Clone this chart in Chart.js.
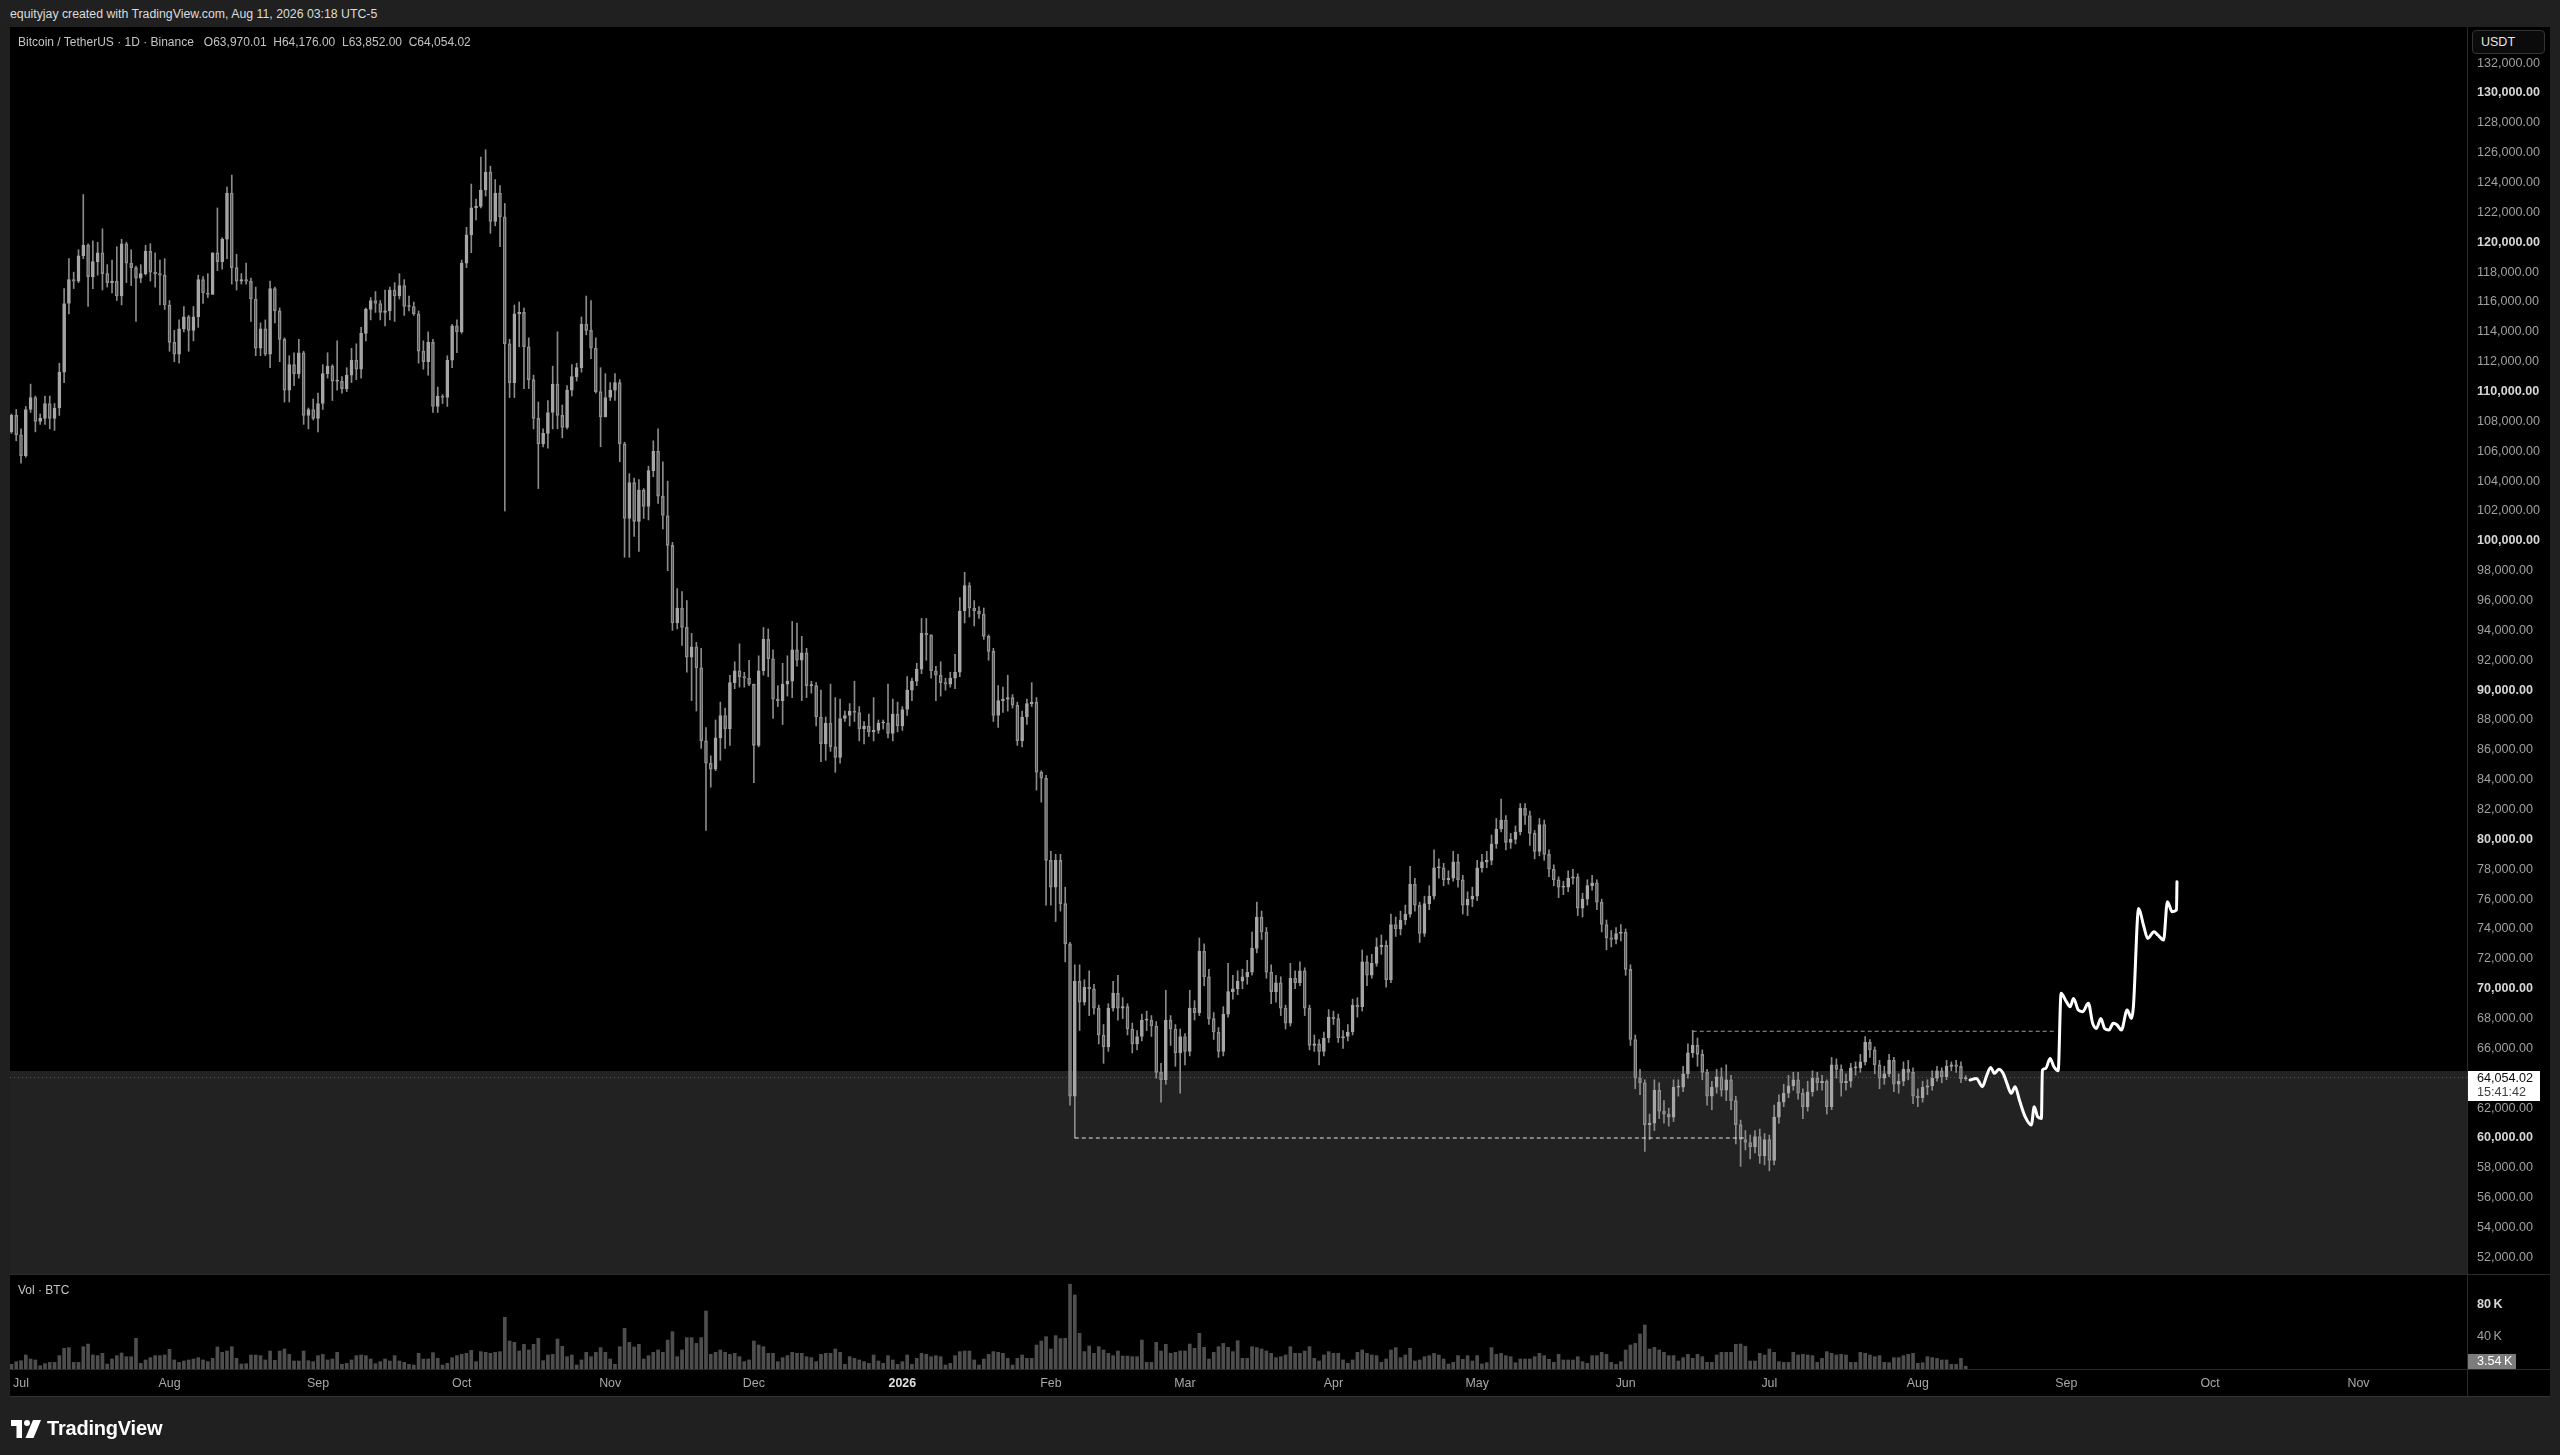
<!DOCTYPE html>
<html>
<head>
<meta charset="utf-8">
<title>BTCUSDT 1D</title>
<script src="https://cdn.jsdelivr.net/npm/chart.js@4.4.1/dist/chart.umd.min.js"></script>
<style>
  html, body { margin: 0; padding: 0; width: 2560px; height: 1455px; overflow: hidden; background: #202020;
    font-family: "Liberation Sans", Arial, sans-serif; }
  .abs { position: absolute; }
  #topline { left: 10px; top: 6px; font-size: 12.3px; line-height: 16px; color: #dcdcdc; white-space: pre; }
  #frame { left: 10px; top: 27px; width: 2540px; height: 1370px; background: #000; }
  #mainCanvas { left: 10px; top: 27px; }
  #volCanvas { left: 10px; top: 1275px; }
  #legend { left: 18px; top: 35px; font-size: 12px; line-height: 14px; color: #c4c4c4; white-space: pre; z-index: 5; }
  #volLegend { left: 18px; top: 1283px; font-size: 12px; line-height: 14px; color: #c4c4c4; z-index: 5; }
  #usdt { left: 2472px; top: 30px; width: 73px; height: 24px; border: 1px solid #333; border-radius: 4px;
    background: #0b0b0b; color: #e6e6e6; font-size: 12.5px; line-height: 22px; padding-left: 8px; box-sizing: border-box; z-index: 5; }
  .sep { background: #2b2b2b; z-index: 4; }
  #logo { left: 11px; top: 1417px; z-index: 5; display: flex; align-items: center; }
  #logo span { color: #fff; font-size: 20px; font-weight: bold; margin-left: 6px; letter-spacing: -0.2px; }
</style>
</head>
<body>
<div id="topline" class="abs">equityjay created with TradingView.com, Aug 11, 2026 03:18 UTC-5</div>
<div id="frame" class="abs"></div>
<canvas id="mainCanvas" class="abs" width="2540" height="1247"></canvas>
<canvas id="volCanvas" class="abs" width="2540" height="122"></canvas>
<div class="abs sep" style="left:10px;top:1274px;width:2540px;height:1px;"></div>
<div class="abs sep" style="left:10px;top:1369px;width:2540px;height:1px;"></div>
<div class="abs sep" style="left:10px;top:1396px;width:2540px;height:1px;background:#333;"></div>
<div class="abs sep" style="left:2467px;top:27px;width:1px;height:1370px;"></div>
<div id="legend" class="abs">Bitcoin / TetherUS · 1D · Binance   O63,970.01  H64,176.00  L63,852.00  C64,054.02</div>
<div id="volLegend" class="abs">Vol · BTC</div>
<div id="usdt" class="abs">USDT</div>
<div id="logo" class="abs">
  <svg width="30" height="18" viewBox="0 0 30 18">
    <path d="M0 0 H11 V18 H5.5 V6 H0 Z" fill="#fff"/>
    <circle cx="16" cy="3" r="3" fill="#fff"/>
    <path d="M22 0 H30 L22.5 18 H14.5 Z" fill="#fff"/>
  </svg>
  <span>TradingView</span>
</div>

<script>
// Day 0 = 2025-07-01, first candle = 2025-06-29
const firstDay = -2;
const firstOpenK = 107.3;

// daily closes in thousands USDT
const closeK = [
  108.4, 107.1,
  105.7, 108.8, 109.6, 108.0, 108.2, 109.2, 108.2, 108.9, 111.3, 115.9, 117.5, 117.4, 119.1, 119.8, 117.7, 118.7, 119.3, 117.9, 117.3, 117.4, 116.4, 119.9, 118.6, 118.3, 117.6, 117.9, 119.4, 118.0, 117.9, 117.8, 115.8,
  113.3, 112.5, 114.2, 115.0, 114.1, 115.0, 117.5, 116.6, 116.5, 119.3, 118.7, 120.2, 123.3, 118.3, 117.4, 117.5, 117.4, 116.2, 112.9, 114.2, 112.5, 116.9, 115.4, 113.5, 110.1, 111.8, 111.2, 112.6, 108.4, 108.8, 108.2,
  109.2, 111.2, 111.7, 110.7, 110.7, 110.2, 111.1, 112.1, 111.5, 113.9, 115.5, 116.1, 115.9, 115.3, 115.4, 116.8, 116.4, 117.1, 115.7, 115.7, 115.2, 112.7, 112.0, 113.3, 109.0, 109.7, 109.6, 112.1, 114.4, 114.0,
  118.6, 120.5, 122.3, 122.4, 123.5, 124.7, 121.4, 123.3, 121.7, 113.2, 110.6, 115.2, 115.3, 113.0, 110.8, 108.2, 106.5, 107.2, 108.6, 110.5, 108.4, 107.6, 110.1, 111.0, 111.6, 114.5, 114.1, 112.9, 110.0, 108.3, 109.6,
  110.1, 110.6, 106.5, 101.5, 103.9, 101.3, 103.4, 102.3, 104.7, 106.0, 103.0, 101.7, 99.7, 94.5, 95.5, 94.2, 92.2, 92.9, 91.5, 86.6, 85.1, 84.7, 86.8, 88.3, 87.4, 90.5, 91.3, 90.9, 90.8, 90.4,
  86.3, 91.3, 93.4, 92.1, 89.4, 89.3, 90.4, 90.6, 92.7, 92.0, 92.5, 90.3, 90.3, 88.2, 86.4, 87.8, 86.2, 85.5, 88.1, 88.3, 88.6, 88.5, 87.4, 87.6, 87.2, 87.3, 87.8, 87.8, 87.1, 88.4, 87.6,
  88.7, 90.0, 90.6, 91.4, 93.8, 93.7, 91.3, 91.0, 90.5, 90.4, 90.8, 91.2, 95.3, 97.0, 95.5, 95.3, 95.1, 93.6, 92.6, 88.3, 89.3, 89.4, 89.5, 89.0, 86.6, 88.2, 89.1, 89.2, 84.5, 84.1, 78.6,
  76.8, 78.6, 75.7, 73.0, 62.8, 70.5, 69.1, 70.1, 70.0, 68.7, 66.9, 66.1, 68.7, 69.7, 68.7, 68.8, 67.3, 66.3, 66.8, 67.9, 67.9, 67.5, 64.4, 63.9, 67.9, 67.3, 65.7, 66.8,
  65.8, 68.7, 68.4, 72.5, 70.8, 68.0, 67.1, 65.8, 68.3, 69.8, 70.0, 70.5, 70.8, 71.1, 72.7, 74.8, 73.8, 71.1, 69.8, 70.4, 68.7, 67.7, 70.7, 70.4, 71.2, 68.7, 66.2, 66.3, 65.8, 66.7, 68.1,
  68.0, 66.7, 66.8, 67.1, 68.9, 68.8, 71.8, 70.9, 71.7, 72.8, 72.9, 70.6, 74.3, 74.0, 74.6, 75.0, 77.0, 75.6, 73.7, 75.7, 76.2, 78.1, 78.1, 77.3, 77.4, 78.5, 77.3, 75.6, 76.0, 76.2,
  78.1, 78.5, 78.6, 79.7, 80.7, 81.3, 79.8, 80.0, 80.5, 82.1, 81.6, 80.4, 79.2, 81.0, 79.0, 78.0, 77.3, 76.8, 76.8, 77.4, 77.5, 75.4, 76.0, 76.9, 77.1, 75.8, 74.3, 73.4, 73.3, 73.7, 73.8,
  71.3, 66.6, 64.0, 63.7, 60.9, 61.0, 63.2, 61.8, 61.6, 61.4, 63.4, 63.4, 64.3, 65.7, 66.2, 65.6, 64.4, 62.8, 63.4, 64.1, 63.2, 63.9, 62.5, 60.9, 59.9, 59.7, 59.4, 60.1, 58.8, 59.9,
  58.5, 61.4, 62.4, 63.0, 63.5, 63.9, 63.0, 62.1, 63.1, 64.0, 63.7, 63.8, 62.1, 64.9, 64.6, 63.7, 63.8, 64.7, 64.7, 65.1, 66.4, 65.9, 64.9, 64.0, 64.3, 65.2, 63.6, 63.8, 64.6, 64.4, 62.8,
  62.7, 63.4, 63.5, 64.0, 64.5, 64.1, 64.8, 64.9, 64.8, 63.97, 64.05402
];

const highK = [
  108.5, 108.8,
  107.5, 109.0, 110.5, 109.7, 108.5, 109.7, 109.7, 109.2, 111.9, 116.9, 118.9, 118.0, 119.5, 123.2, 119.9, 120.1, 120.0, 120.9, 118.5, 118.8, 119.7, 120.2, 120.0, 119.5, 118.4, 118.5, 119.8, 119.9, 119.3, 118.8, 118.9,
  116.1, 114.1, 114.8, 115.7, 115.1, 115.7, 117.8, 117.7, 117.9, 119.3, 122.3, 120.3, 123.7, 124.5, 119.2, 117.9, 118.6, 117.6, 117.0, 114.6, 114.8, 117.4, 117.0, 115.6, 113.6, 112.4, 112.6, 113.5, 112.7, 108.9, 109.5,
  109.9, 111.8, 112.6, 111.8, 113.4, 111.0, 111.6, 112.9, 113.2, 114.3, 115.6, 116.3, 116.7, 116.1, 116.8, 117.0, 117.3, 117.9, 117.5, 116.4, 116.0, 115.4, 113.4, 114.0, 113.5, 110.3, 109.8, 112.4, 114.5, 114.8,
  118.8, 121.0, 123.9, 122.9, 125.7, 126.2, 125.1, 124.2, 123.8, 122.6, 113.5, 115.8, 116.0, 115.6, 113.6, 111.1, 109.3, 107.5, 109.4, 111.7, 114.0, 109.1, 110.4, 111.8, 111.9, 115.0, 116.4, 116.1, 113.6, 111.6, 111.2,
  110.6, 111.2, 110.8, 106.6, 104.5, 104.2, 104.1, 103.5, 105.0, 106.7, 107.5, 105.3, 104.0, 99.9, 96.8, 96.6, 96.0, 93.8, 93.2, 92.8, 87.5, 85.6, 88.0, 89.2, 88.8, 91.0, 91.9, 93.1, 91.2, 92.0,
  90.4, 92.3, 94.2, 94.1, 92.7, 90.3, 91.8, 92.3, 94.6, 94.5, 93.6, 92.8, 90.6, 90.5, 90.0, 88.2, 90.4, 89.5, 89.4, 88.6, 89.1, 90.6, 88.9, 87.9, 88.4, 89.5, 88.0, 88.0, 90.4, 89.4, 89.2,
  88.9, 90.9, 90.8, 91.8, 94.8, 94.8, 93.6, 91.6, 91.9, 90.8, 91.2, 92.4, 96.2, 97.9, 97.2, 96.0, 95.6, 95.5, 93.7, 92.8, 90.3, 90.2, 91.0, 89.7, 89.2, 88.6, 89.4, 90.5, 89.5, 84.6, 84.3,
  79.2, 79.0, 79.0, 76.8, 73.1, 71.6, 71.6, 70.6, 71.2, 70.3, 68.9, 67.6, 69.0, 70.5, 70.9, 69.4, 69.0, 67.7, 67.2, 68.3, 68.5, 68.2, 67.8, 65.0, 69.9, 68.2, 67.6, 67.3,
  67.0, 69.9, 69.2, 73.4, 73.0, 71.3, 68.4, 67.4, 68.8, 71.7, 70.9, 71.2, 71.3, 71.9, 73.8, 75.8, 75.2, 74.1, 71.6, 70.9, 70.8, 68.9, 71.7, 71.2, 71.8, 71.4, 68.9, 66.9, 66.6, 67.1, 68.6,
  68.5, 68.3, 67.2, 67.6, 69.3, 69.4, 72.6, 72.2, 72.3, 73.4, 73.6, 73.2, 75.0, 74.8, 75.2, 75.6, 78.2, 77.4, 75.8, 76.2, 76.9, 79.3, 78.7, 78.4, 77.9, 79.2, 79.0, 77.6, 76.5, 76.8,
  78.6, 79.0, 79.2, 80.3, 81.4, 82.7, 81.6, 80.4, 80.9, 82.4, 82.4, 81.9, 80.6, 81.4, 81.3, 79.3, 78.3, 77.5, 77.2, 77.9, 78.0, 77.7, 76.4, 77.3, 77.6, 77.3, 76.0, 74.6, 73.9, 74.1, 74.3,
  74.0, 71.6, 66.9, 64.6, 63.9, 61.6, 63.9, 63.7, 62.5, 62.0, 63.9, 63.9, 64.8, 66.3, 67.2, 66.7, 65.9, 64.6, 63.8, 64.6, 64.7, 64.9, 64.2, 62.8, 61.2, 60.5, 60.2, 60.5, 60.6, 60.3,
  60.2, 62.2, 62.9, 63.6, 64.2, 64.4, 64.4, 63.3, 63.8, 64.5, 64.4, 64.2, 63.9, 65.4, 65.3, 64.9, 64.3, 65.0, 65.1, 65.6, 66.8, 66.6, 66.1, 65.2, 64.8, 65.6, 65.4, 64.3, 65.1, 65.2, 64.7,
  63.3, 63.8, 63.9, 64.5, 64.8, 64.7, 65.2, 65.1, 65.2, 65.1, 64.176
];

const lowK = [
  107.2, 106.7,
  105.2, 105.6, 108.6, 107.3, 107.8, 107.8, 107.5, 107.4, 108.4, 110.6, 115.2, 116.9, 117.3, 118.9, 115.7, 116.9, 117.8, 116.8, 117.0, 116.6, 116.1, 115.8, 117.3, 117.1, 114.7, 117.3, 117.8, 117.4, 117.0, 115.8, 115.5,
  112.7, 112.0, 111.9, 114.0, 112.7, 113.4, 114.3, 115.9, 116.3, 116.5, 118.1, 118.2, 118.9, 117.2, 116.8, 117.2, 117.2, 114.7, 112.4, 112.4, 112.4, 111.6, 114.6, 112.0, 109.3, 109.3, 110.4, 110.9, 107.8, 107.5, 108.1,
  107.3, 108.8, 110.9, 109.4, 110.1, 109.9, 110.0, 110.6, 110.8, 110.9, 113.4, 114.8, 115.3, 114.8, 114.4, 114.8, 114.7, 116.2, 115.1, 115.4, 115.1, 111.9, 111.5, 111.1, 108.6, 108.6, 109.2, 109.0, 111.6, 112.6,
  113.9, 118.3, 119.3, 121.5, 122.3, 123.1, 120.6, 121.1, 119.7, 102.0, 109.6, 109.6, 113.0, 110.2, 110.2, 107.5, 103.5, 106.3, 106.2, 107.5, 107.5, 106.9, 107.5, 109.7, 110.7, 111.3, 113.8, 112.2, 109.9, 106.3, 108.6,
  109.4, 109.4, 105.3, 98.9, 98.9, 100.3, 99.3, 101.5, 101.4, 104.3, 102.5, 100.8, 98.0, 94.0, 94.1, 93.0, 91.2, 89.3, 88.6, 86.1, 80.6, 83.5, 84.6, 85.3, 86.1, 86.3, 90.1, 90.2, 90.2, 90.3,
  83.8, 86.2, 91.0, 90.9, 88.1, 88.9, 87.7, 89.6, 89.5, 91.6, 89.3, 89.5, 89.8, 87.6, 85.2, 85.3, 85.9, 84.5, 85.1, 87.9, 87.6, 87.9, 86.6, 86.4, 86.9, 86.6, 87.1, 87.4, 86.8, 86.6, 87.2,
  87.3, 88.3, 89.3, 90.3, 91.1, 92.0, 90.8, 89.3, 89.6, 90.0, 90.2, 90.1, 90.9, 94.5, 94.9, 94.3, 94.8, 93.4, 92.0, 87.9, 87.5, 88.5, 88.6, 88.8, 86.3, 86.2, 87.7, 88.9, 83.3, 82.5, 75.6,
  75.6, 74.5, 75.2, 71.8, 62.2, 60.0, 67.2, 68.9, 68.2, 68.3, 66.3, 65.0, 65.8, 68.5, 67.9, 68.0, 66.9, 65.7, 65.9, 66.5, 67.2, 66.8, 64.0, 62.4, 63.6, 66.2, 64.8, 63.0,
  64.9, 65.5, 67.9, 68.2, 70.2, 67.6, 66.6, 65.4, 65.5, 68.1, 69.3, 69.6, 70.0, 70.3, 70.9, 72.4, 73.3, 70.7, 69.0, 69.1, 68.2, 67.3, 67.5, 70.0, 70.2, 68.2, 65.9, 65.8, 64.9, 65.5, 66.4,
  67.6, 66.4, 66.0, 66.5, 66.9, 68.1, 68.5, 70.2, 70.7, 71.5, 72.3, 70.1, 70.4, 73.5, 73.6, 74.3, 74.8, 75.2, 73.1, 73.5, 75.3, 76.0, 77.4, 76.9, 77.0, 77.2, 76.8, 75.0, 74.9, 75.5,
  75.9, 77.8, 78.1, 78.3, 79.4, 80.5, 79.3, 79.4, 79.7, 80.3, 81.0, 79.6, 78.7, 78.9, 78.6, 77.5, 76.9, 76.1, 76.3, 76.5, 77.0, 74.9, 74.8, 75.6, 76.6, 75.3, 73.8, 72.6, 72.8, 73.0, 73.2,
  70.9, 66.2, 63.3, 62.9, 59.1, 59.9, 60.5, 61.3, 61.0, 60.8, 61.1, 62.8, 63.1, 64.0, 65.4, 64.8, 63.9, 62.2, 61.9, 63.0, 62.8, 62.5, 61.9, 59.6, 58.1, 59.2, 58.6, 59.0, 58.3, 58.2,
  57.8, 58.2, 61.0, 62.1, 62.7, 63.2, 62.6, 61.3, 61.8, 62.8, 63.2, 63.2, 61.6, 61.9, 64.0, 62.8, 63.2, 63.4, 64.2, 64.4, 64.9, 65.4, 64.3, 63.3, 63.6, 64.1, 63.1, 63.0, 63.5, 63.9, 62.3,
  62.1, 62.4, 62.9, 63.2, 63.8, 63.7, 63.9, 64.5, 64.4, 63.7, 63.852
];

// daily volume in thousands BTC
const volK = [
  5.8, 9.2,
  10.4, 17.5, 12.5, 11.3, 4.2, 6.7, 8.3, 8.3, 16.7, 25.8, 26.7, 8.3, 8.3, 27.9, 31.2, 17.5, 16.7, 19.6, 6.2, 12.5, 16.7, 20, 15.4, 15.4, 38.3, 7.1, 11.3, 14.2, 16.7, 16.7, 17.5,
  24.6, 11.3, 8.3, 10, 11.3, 12.5, 14.2, 11.3, 9.2, 13.3, 27.5, 20.8, 22.5, 27.9, 13.3, 6.2, 6.7, 17.5, 17.5, 16.7, 11.3, 22.5, 10.8, 22.5, 25, 18.3, 10, 10, 22.5, 10.4, 9.2,
  16.7, 18.3, 11.3, 12.5, 20.8, 5.8, 7.1, 11.3, 16.7, 17.5, 16.7, 12.5, 6.7, 9.2, 12.5, 10, 16.7, 10, 8.3, 5.8, 5, 19.6, 12.5, 12.5, 20.4, 13.3, 5, 7.1, 14.2, 16.7,
  18.3, 19.6, 23.3, 9.2, 21.7, 20.8, 19.6, 20.8, 21.7, 64.6, 35, 33.3, 22.5, 30.8, 23.8, 30.8, 38.3, 10.4, 17.5, 18.3, 37.5, 28.3, 15.4, 17.5, 5, 11.3, 20.8, 15.4, 20.8, 26.7, 20.8,
  12.5, 5.8, 27.9, 50.8, 33.3, 27.5, 30.8, 12.5, 16.7, 20.8, 23.8, 20.8, 36.2, 46.7, 15.4, 23.8, 39.2, 39.2, 32, 39.2, 72.5, 18.3, 20.8, 23.8, 20.8, 18.3, 19.6, 15.4, 9.2, 11.3,
  35, 30, 27.9, 19.6, 19.6, 9.2, 14.2, 16.7, 20.8, 19.6, 19.6, 15.4, 14.2, 9.2, 18.3, 19.6, 19.6, 25, 20.8, 5.8, 15.4, 13.3, 11.3, 9.2, 7.1, 17.5, 10, 7.1, 16.7, 11.3, 5.8,
  9.2, 17.5, 5.8, 13.3, 19.6, 18.3, 15.4, 16.7, 15.4, 5, 7.1, 16.7, 21.7, 22.5, 22.5, 11.3, 5, 12.5, 18.3, 21.7, 20.8, 19.6, 13.3, 5, 13.3, 17.5, 13.3, 13.3, 30, 35, 40.4,
  25, 41.7, 38, 38.3, 106, 92.5, 44.6, 21.7, 28.8, 19.6, 27.9, 23.8, 19.6, 16.7, 22.5, 16.2, 16.2, 15.4, 15.4, 36.2, 8.3, 8.3, 33.3, 22.5, 30.8, 19.6, 20.8, 22.5,
  22.5, 31.2, 25.8, 44.6, 27.1, 12.5, 20.8, 27.9, 32, 27.1, 21.7, 35.4, 13.3, 13.3, 27.9, 26.7, 25, 22.5, 19.6, 14.2, 15.4, 17.5, 27.9, 19.6, 19.6, 22.5, 27.9, 13.3, 10, 17.5, 21.7,
  19.6, 19.6, 11.3, 7.1, 11.3, 20.8, 23.8, 19.6, 17.5, 16.7, 8.3, 12.5, 23.8, 26.7, 14.2, 17.5, 25.8, 10, 11.3, 15.4, 16.7, 19.6, 17.5, 12.5, 6.2, 8.3, 16.7, 12.1, 16.7, 10,
  16.7, 6.2, 7.9, 26.7, 18.3, 19.6, 16.7, 15.4, 7.9, 12.5, 12.5, 12.5, 15.4, 19.6, 16.7, 12.1, 8.3, 18.3, 11.3, 11.3, 11.3, 15.4, 9.2, 7.1, 16.7, 16.7, 20.8, 18.3, 8.3, 5.8, 9.2,
  23.8, 30, 32, 43.8, 55, 25, 27.1, 23.8, 20.8, 16.7, 16.7, 10, 14.2, 18.3, 13.3, 18.3, 15.4, 8.3, 8.3, 17.5, 20.8, 20.8, 20.8, 30.8, 31.2, 28.3, 10, 10, 19.6, 17.5,
  25, 20.8, 9.2, 8.3, 8.3, 20.8, 17.5, 18.3, 17.5, 16.7, 8.3, 13.3, 21.7, 19.6, 17.5, 18.3, 17.5, 8.3, 8.3, 20.8, 19.6, 17.5, 15.4, 16.7, 8.3, 7.9, 14.2, 14.2, 16.7, 18.3, 19.6,
  7.1, 7.9, 15.4, 14.2, 13.3, 11.3, 11.3, 5.8, 5.8, 13.3, 3.54
];

// hand-drawn projection (brush), day / price in thousands
const projDay = [406.9, 408.2, 409.5, 410.3, 411.2, 412.0, 412.9, 413.8, 414.6, 415.5, 416.3, 417.2, 418.4, 419.7, 420.3, 421.0, 421.8, 422.0, 422.7, 423.6,
  424.4, 425.3, 425.9, 427.0, 427.8, 428.5, 429.5, 430.4, 431.6, 432.5, 433.3, 434.2, 435.0, 435.9, 436.8, 437.6, 438.5, 439.7, 440.6, 441.0,
  442.1, 443.1, 444.0, 445.3, 446.1, 447.3, 448.1, 449.1, 450.0, 450.1];
const projK = [63.88, 63.99, 63.44, 64.11, 64.73, 64.33, 64.60, 64.33, 63.66, 62.99, 63.44, 62.54, 61.43, 60.87, 62.10, 61.43, 61.31, 64.55, 64.66, 65.33,
  64.78, 64.51, 69.69, 69.13, 68.79, 69.35, 68.57, 68.46, 69.02, 67.68, 67.34, 68.01, 67.34, 67.23, 67.68, 67.57, 67.23, 68.57, 68.01, 68.79,
  75.38, 74.27, 73.37, 73.82, 73.60, 73.26, 75.83, 75.16, 75.27, 77.17];

// drawings
const lowBoxDays = [220, 360];
const lowBoxPrice = 60000;
const highBoxDays = [349, 425];
const highBoxPrice = 67150;
const zoneTop = 64490;
const countdown = '15:41:42';

// axes
const priceTicks = [52000, 54000, 56000, 58000, 60000, 62000, 64000, 66000, 68000, 70000, 72000, 74000, 76000, 78000, 80000,
  82000, 84000, 86000, 88000, 90000, 92000, 94000, 96000, 98000, 100000, 102000, 104000, 106000, 108000, 110000,
  112000, 114000, 116000, 118000, 120000, 122000, 124000, 126000, 128000, 130000, 132000];
const monthDays = [0, 31, 62, 92, 123, 153, 184, 215, 243, 274, 304, 335, 365, 396, 427, 457, 488];
const monthLabels = ['Jul', 'Aug', 'Sep', 'Oct', 'Nov', 'Dec', '2026', 'Feb', 'Mar', 'Apr', 'May', 'Jun', 'Jul', 'Aug', 'Sep', 'Oct', 'Nov'];
const volTicks = [40000, 80000];

// visible window
const xMin = -2.3, xMax = 510.65;
const yMin = 50890, yMax = 134420;
const volMax = 117500;

const FONT = '"Liberation Sans", Arial, sans-serif';
const AXIS_SIZE = 12.6;
const UP = '#a6a6a6';
const DOWN = '#8f8f8f';
const WICK = '#8a8a8a';

Chart.defaults.font.family = FONT;
Chart.defaults.font.size = 12;

const candles = closeK.map((c, i) => {
  const o = i === 0 ? firstOpenK : closeK[i - 1];
  return { d: firstDay + i, o: o * 1000, h: highK[i] * 1000, l: lowK[i] * 1000, c: c * 1000 };
});
const lastClose = candles[candles.length - 1].c;
const lastVol = volK[volK.length - 1] * 1000;

const fmtPrice = v => v.toLocaleString('en-US', { minimumFractionDigits: 2, maximumFractionDigits: 2 });
const fmtVol = v => (Math.round(v / 10) / 100).toString() + '\u2009K';

// keep the plot area flush with the pane: no extra room for edge labels
const noPad = s => { s.paddingTop = 0; s.paddingBottom = 0; s.paddingLeft = 0; s.paddingRight = 0; };

const lastPricePlugin = {
  id: 'lastPrice',
  afterDraw(chart) {
    const { ctx, chartArea } = chart;
    const y = chart.scales.y.getPixelForValue(lastClose);
    ctx.save();
    ctx.fillStyle = '#ffffff';
    ctx.fillRect(chartArea.right + 1, Math.round(y) - 6, 72, 30);
    ctx.font = AXIS_SIZE + 'px ' + FONT;
    ctx.textBaseline = 'middle';
    ctx.fillStyle = '#0c0c0c';
    ctx.fillText(fmtPrice(lastClose), chartArea.right + 10, y + 1);
    ctx.fillStyle = '#404040';
    ctx.fillText(countdown, chartArea.right + 10, y + 15);
    ctx.restore();
  }
};

const lastVolPlugin = {
  id: 'lastVol',
  afterDraw(chart) {
    const { ctx, chartArea } = chart;
    const y = chart.scales.y.getPixelForValue(lastVol);
    const top = Math.min(y - 8, chartArea.bottom - 15);
    ctx.save();
    ctx.fillStyle = '#7c7c7c';
    ctx.fillRect(chartArea.right + 1, top, 48, 15);
    ctx.font = AXIS_SIZE + 'px ' + FONT;
    ctx.textBaseline = 'middle';
    ctx.fillStyle = '#ffffff';
    ctx.fillText(fmtVol(lastVol), chartArea.right + 10, top + 8);
    ctx.restore();
  }
};

const barBase = { grouped: false, barPercentage: 1, categoryPercentage: 1 };

new Chart(document.getElementById('mainCanvas'), {
  type: 'bar',
  data: {
    datasets: [
      {
        type: 'line', order: 20,
        data: [{ x: xMin, y: zoneTop }, { x: xMax, y: zoneTop }],
        fill: 'start', backgroundColor: '#222222', borderWidth: 0, pointRadius: 0
      },
      {
        type: 'line', order: 15,
        data: [{ x: xMin, y: lastClose }, { x: xMax, y: lastClose }],
        borderColor: '#5a5a5a', borderWidth: 1, borderDash: [1, 3], pointRadius: 0, fill: false
      },
      Object.assign({}, barBase, {
        order: 6, maxBarThickness: 1,
        data: candles.map(k => ({ x: k.d, y: [Math.max(k.o, k.c), Math.max(k.h, k.o, k.c)] })),
        backgroundColor: WICK
      }),
      Object.assign({}, barBase, {
        order: 6, maxBarThickness: 1,
        data: candles.map(k => ({ x: k.d, y: [Math.min(k.l, k.o, k.c), Math.min(k.o, k.c)] })),
        backgroundColor: WICK
      }),
      Object.assign({}, barBase, {
        order: 5, maxBarThickness: 3, minBarLength: 1,
        data: candles.map(k => ({ x: k.d, y: [k.o, k.c] })),
        backgroundColor: ctx => candles[ctx.dataIndex].c >= candles[ctx.dataIndex].o ? UP : 'rgba(0,0,0,0)',
        borderColor: ctx => candles[ctx.dataIndex].c >= candles[ctx.dataIndex].o ? UP : DOWN,
        borderWidth: 1, borderSkipped: false
      }),
      {
        type: 'line', order: 2,
        data: lowBoxDays.map(d => ({ x: d, y: lowBoxPrice })),
        borderColor: '#e8e8e8', borderWidth: 1, borderDash: [4, 3], pointRadius: 0, fill: false
      },
      {
        type: 'line', order: 2,
        data: highBoxDays.map(d => ({ x: d, y: highBoxPrice })),
        borderColor: '#9c9c9c', borderWidth: 1, borderDash: [4, 3], pointRadius: 0, fill: false
      },
      {
        type: 'line', order: 1,
        data: projDay.map((d, i) => ({ x: d, y: projK[i] * 1000 })),
        borderColor: '#ffffff', borderWidth: 3, pointRadius: 0, fill: false,
        cubicInterpolationMode: 'monotone', borderCapStyle: 'round', borderJoinStyle: 'round'
      }
    ]
  },
  options: {
    responsive: false, animation: false, devicePixelRatio: 1, events: [],
    layout: { padding: 0 },
    plugins: { legend: { display: false }, tooltip: { enabled: false } },
    scales: {
      x: { type: 'linear', min: xMin, max: xMax, offset: false, display: false },
      y: {
        type: 'linear', position: 'right', min: yMin, max: yMax,
        afterFit: s => { s.width = 83; noPad(s); },
        afterBuildTicks: s => { s.ticks = priceTicks.map(v => ({ value: v })); },
        grid: { display: false, drawTicks: false },
        border: { display: false },
        ticks: {
          padding: 10, autoSkip: false,
          callback: v => fmtPrice(v),
          color: ctx => ctx.tick && ctx.tick.value % 10000 === 0 ? '#d6d6d6' : '#a0a0a0',
          font: ctx => ({ family: FONT, size: AXIS_SIZE, weight: ctx.tick && ctx.tick.value % 10000 === 0 ? 'bold' : 'normal' })
        }
      }
    }
  },
  plugins: [lastPricePlugin]
});

new Chart(document.getElementById('volCanvas'), {
  type: 'bar',
  data: {
    datasets: [
      Object.assign({}, barBase, {
        maxBarThickness: 3,
        data: volK.map((v, i) => ({ x: firstDay + i, y: v * 1000 })),
        backgroundColor: '#4e4e4e'
      })
    ]
  },
  options: {
    responsive: false, animation: false, devicePixelRatio: 1, events: [],
    layout: { padding: 0 },
    plugins: { legend: { display: false }, tooltip: { enabled: false } },
    scales: {
      x: {
        type: 'linear', min: xMin, max: xMax, offset: false, position: 'bottom',
        afterFit: s => { s.height = 28; noPad(s); },
        afterBuildTicks: s => { s.ticks = monthDays.map(v => ({ value: v })); },
        grid: { display: false, drawTicks: false },
        border: { display: false },
        ticks: {
          autoSkip: false, maxRotation: 0, padding: 7,
          callback: (v, i) => monthLabels[i],
          color: ctx => monthLabels[ctx.index] === '2026' ? '#e0e0e0' : '#a8a8a8',
          font: ctx => ({ family: FONT, size: 12.4, weight: monthLabels[ctx.index] === '2026' ? 'bold' : 'normal' })
        }
      },
      y: {
        type: 'linear', position: 'right', min: 0, max: volMax,
        afterFit: s => { s.width = 83; noPad(s); },
        afterBuildTicks: s => { s.ticks = volTicks.map(v => ({ value: v })); },
        grid: { display: false, drawTicks: false },
        border: { display: false },
        ticks: {
          padding: 10, autoSkip: false,
          callback: v => (v / 1000) + '\u2009K',
          color: ctx => ctx.index === volTicks.length - 1 ? '#d6d6d6' : '#a0a0a0',
          font: ctx => ({ family: FONT, size: AXIS_SIZE, weight: ctx.index === volTicks.length - 1 ? 'bold' : 'normal' })
        }
      }
    }
  },
  plugins: [lastVolPlugin]
});
</script>
</body>
</html>
